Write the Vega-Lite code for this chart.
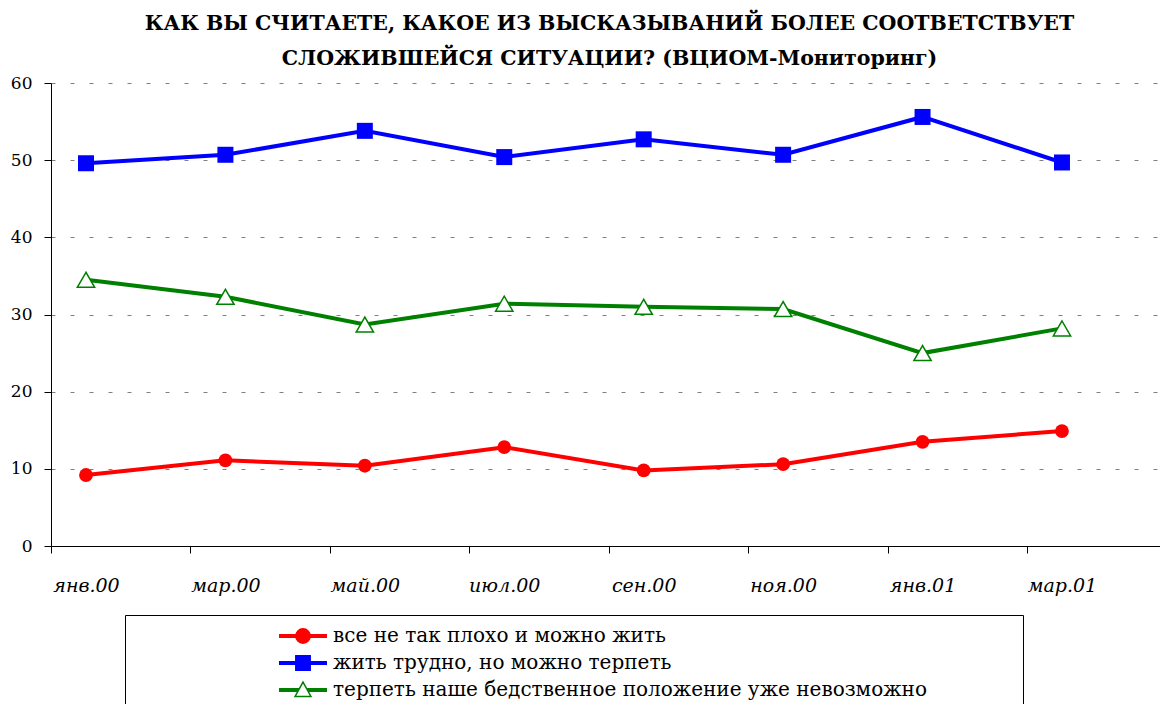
{
  "$schema": "https://vega.github.io/schema/vega-lite/v6.json",
  "width": 1109,
  "height": 463,
  "autosize": "none",
  "padding": {"left": 51, "top": 83, "right": 0, "bottom": 158},
  "background": "white",
  "title": {
    "text": ["КАК ВЫ СЧИТАЕТЕ, КАКОЕ ИЗ ВЫСКАЗЫВАНИЙ БОЛЕЕ СООТВЕТСТВУЕТ", "СЛОЖИВШЕЙСЯ СИТУАЦИИ? (ВЦИОМ-Мониторинг)"],
    "font": "DejaVu Serif",
    "fontSize": 20.5,
    "fontWeight": "bold",
    "lineHeight": 35,
    "color": "black",
    "anchor": "middle",
    "offset": 5,
    "dx": 4
  },
  "data": {
    "values": [
      {"m": "янв.00", "s": "все не так плохо и можно жить", "v": 9.2},
      {"m": "мар.00", "s": "все не так плохо и можно жить", "v": 11.1},
      {"m": "май.00", "s": "все не так плохо и можно жить", "v": 10.4},
      {"m": "июл.00", "s": "все не так плохо и можно жить", "v": 12.8},
      {"m": "сен.00", "s": "все не так плохо и можно жить", "v": 9.8},
      {"m": "ноя.00", "s": "все не так плохо и можно жить", "v": 10.6},
      {"m": "янв.01", "s": "все не так плохо и можно жить", "v": 13.5},
      {"m": "мар.01", "s": "все не так плохо и можно жить", "v": 14.9},
      {"m": "янв.00", "s": "жить трудно, но можно терпеть", "v": 49.6},
      {"m": "мар.00", "s": "жить трудно, но можно терпеть", "v": 50.7},
      {"m": "май.00", "s": "жить трудно, но можно терпеть", "v": 53.8},
      {"m": "июл.00", "s": "жить трудно, но можно терпеть", "v": 50.4},
      {"m": "сен.00", "s": "жить трудно, но можно терпеть", "v": 52.7},
      {"m": "ноя.00", "s": "жить трудно, но можно терпеть", "v": 50.7},
      {"m": "янв.01", "s": "жить трудно, но можно терпеть", "v": 55.6},
      {"m": "мар.01", "s": "жить трудно, но можно терпеть", "v": 49.7},
      {"m": "янв.00", "s": "терпеть наше бедственное положение уже невозможно", "v": 34.5},
      {"m": "мар.00", "s": "терпеть наше бедственное положение уже невозможно", "v": 32.3},
      {"m": "май.00", "s": "терпеть наше бедственное положение уже невозможно", "v": 28.7},
      {"m": "июл.00", "s": "терпеть наше бедственное положение уже невозможно", "v": 31.4},
      {"m": "сен.00", "s": "терпеть наше бедственное положение уже невозможно", "v": 31.0},
      {"m": "ноя.00", "s": "терпеть наше бедственное положение уже невозможно", "v": 30.7},
      {"m": "янв.01", "s": "терпеть наше бедственное положение уже невозможно", "v": 25.0},
      {"m": "мар.01", "s": "терпеть наше бедственное положение уже невозможно", "v": 28.2}
    ]
  },
  "encoding": {
    "x": {
      "field": "m",
      "type": "ordinal",
      "scale": {
        "type": "point",
        "domain": ["янв.00", "мар.00", "май.00", "июл.00", "сен.00", "ноя.00", "янв.01", "мар.01"],
        "padding": 0.477,
        "align": 0.263
      },
      "axis": {
        "title": null,
        "labelAngle": 0,
        "domainColor": "black",
        "domainWidth": 1,
        "tickColor": "black",
        "tickWidth": 1,
        "tickSize": 7,
        "tickOffset": -35,
        "labelOffset": 35,
        "labelFont": "DejaVu Serif",
        "labelFontSize": 19,
        "labelFontStyle": "italic",
        "labelColor": "black",
        "labelPadding": 23,
        "grid": false
      }
    },
    "y": {
      "field": "v",
      "type": "quantitative",
      "scale": {"domain": [0, 60], "nice": false, "zero": true},
      "axis": {
        "title": null,
        "values": [0, 10, 20, 30, 40, 50, 60],
        "domainColor": "black",
        "domainWidth": 1,
        "tickColor": "black",
        "tickWidth": 1,
        "tickSize": 7,
        "labelFont": "DejaVu Serif",
        "labelFontSize": 17,
        "labelColor": "black",
        "labelPadding": 12,
        "grid": true,
        "gridColor": "#808080",
        "gridDash": [4, 15],
        "gridWidth": 1
      }
    }
  },
  "layer": [
    {
      "transform": [{"filter": "datum.s == 'все не так плохо и можно жить'"}],
      "mark": {"type": "line", "strokeWidth": 4, "color": "#FF0000"}
    },
    {
      "transform": [{"filter": "datum.s == 'жить трудно, но можно терпеть'"}],
      "mark": {"type": "line", "strokeWidth": 4, "color": "#0000FF"}
    },
    {
      "transform": [{"filter": "datum.s == 'терпеть наше бедственное положение уже невозможно'"}],
      "mark": {"type": "line", "strokeWidth": 4, "color": "#008000"}
    },
    {
      "transform": [{"filter": "datum.s == 'все не так плохо и можно жить'"}],
      "mark": {"type": "point", "shape": "circle", "filled": true, "size": 190, "color": "#FF0000", "opacity": 1}
    },
    {
      "transform": [{"filter": "datum.s == 'жить трудно, но можно терпеть'"}],
      "mark": {"type": "point", "shape": "square", "filled": true, "size": 256, "color": "#0000FF", "opacity": 1}
    },
    {
      "transform": [{"filter": "datum.s == 'терпеть наше бедственное положение уже невозможно'"}],
      "mark": {"type": "point", "shape": "triangle-up", "filled": true, "fill": "white", "stroke": "#008000", "strokeWidth": 1.5, "size": 300, "opacity": 1}
    },
    {
      "transform": [{"filter": "false"}],
      "mark": {"type": "point", "filled": true, "size": 576, "strokeWidth": 1.5, "opacity": 1},
      "encoding": {
        "shape": {
          "field": "s",
          "type": "nominal",
          "scale": {
            "domain": ["все не так плохо и можно жить", "жить трудно, но можно терпеть", "терпеть наше бедственное положение уже невозможно"],
            "range": [
              "M-2,-0.1H2M-2,0H2M-2,0.1H2M0.6,0A0.6,0.6,0,1,1,-0.6,0A0.6,0.6,0,1,1,0.6,0Z",
              "M-2,-0.1H2M-2,0H2M-2,0.1H2M-0.6,-0.6H0.6V0.6H-0.6Z",
              "M-2,-0.1H-0.36M-2,0H-0.36M-2,0.1H-0.36M0.36,-0.1H2M0.36,0H2M0.36,0.1H2M0,-0.66L0.66,0.54L-0.66,0.54Z"
            ]
          },
          "legend": {
            "orient": "none", "legendX": 74, "legendY": 532, "title": null,
            "strokeColor": "black", "fillColor": "white", "padding": 8,
            "symbolOffset": 157, "labelOffset": 17, "symbolStrokeWidth": 1.5, "symbolSize": 576,
            "labelFont": "DejaVu Serif", "labelFontSize": 20, "labelColor": "black", "labelLimit": 1000,
            "rowPadding": 3,
            "labelExpr": "datum.label + '\u2800\u2800\u2800\u2800\u2800\u2800'"
          }
        },
        "fill": {
          "field": "s",
          "type": "nominal",
          "scale": {
            "domain": ["все не так плохо и можно жить", "жить трудно, но можно терпеть", "терпеть наше бедственное положение уже невозможно"],
            "range": ["#FF0000", "#0000FF", "white"]
          },
          "legend": {
            "orient": "none", "legendX": 74, "legendY": 532, "title": null,
            "strokeColor": "black", "fillColor": "white", "padding": 8,
            "symbolOffset": 157, "labelOffset": 17, "symbolStrokeWidth": 1.5, "symbolSize": 576,
            "labelFont": "DejaVu Serif", "labelFontSize": 20, "labelColor": "black", "labelLimit": 1000,
            "rowPadding": 3,
            "labelExpr": "datum.label + '\u2800\u2800\u2800\u2800\u2800\u2800'"
          }
        },
        "stroke": {
          "field": "s",
          "type": "nominal",
          "scale": {
            "domain": ["все не так плохо и можно жить", "жить трудно, но можно терпеть", "терпеть наше бедственное положение уже невозможно"],
            "range": ["#FF0000", "#0000FF", "#008000"]
          },
          "legend": {
            "orient": "none", "legendX": 74, "legendY": 532, "title": null,
            "strokeColor": "black", "fillColor": "white", "padding": 8,
            "symbolOffset": 157, "labelOffset": 17, "symbolStrokeWidth": 1.5, "symbolSize": 576,
            "labelFont": "DejaVu Serif", "labelFontSize": 20, "labelColor": "black", "labelLimit": 1000,
            "rowPadding": 3,
            "labelExpr": "datum.label + '\u2800\u2800\u2800\u2800\u2800\u2800'"
          }
        }
      }
    }
  ],
  "config": {
    "view": {"stroke": null},
    "font": "DejaVu Serif"
  }
}
